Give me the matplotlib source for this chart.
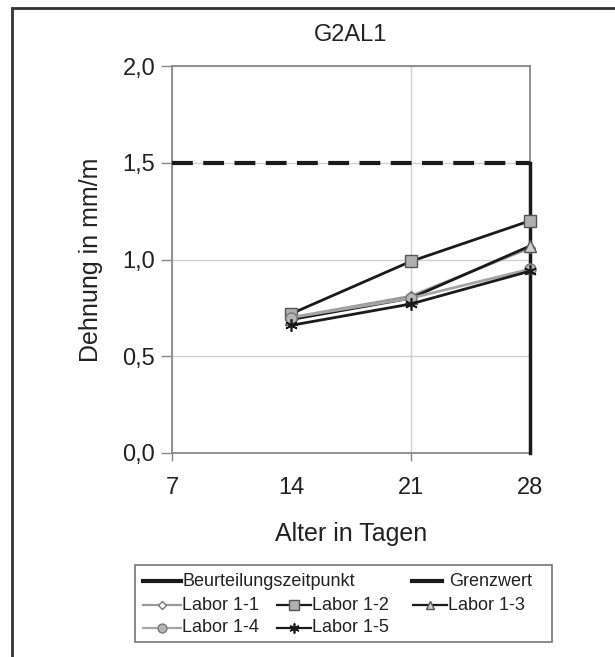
import matplotlib
matplotlib.use("Agg")
import matplotlib.pyplot as plt
from matplotlib.lines import Line2D
from matplotlib.patches import Rectangle

plt.rcParams["font.family"] = ["Liberation Sans", "DejaVu Sans"]

# data
tage = [14, 21, 28]
labor_1_1 = [0.70, 0.81, 1.06]
labor_1_2 = [0.72, 0.99, 1.20]
labor_1_3 = [0.69, 0.80, 1.07]
labor_1_4 = [0.70, 0.80, 0.95]
labor_1_5 = [0.66, 0.77, 0.94]
grenzwert = 1.5
beurteilung_tag = 28
x_ticks = [7, 14, 21, 28]
y_ticks = [0.0, 0.5, 1.0, 1.5, 2.0]
y_labels = ["0,0", "0,5", "1,0", "1,5", "2,0"]

W, H = 615, 657
fig = plt.figure(figsize=(W / 100, H / 100), dpi=100)


def px(x, y):
    # pixel position -> figure fraction
    return x / W, 1 - y / H


# outer chart frame
fig.patches.append(Rectangle(px(12, 670), (630 - 12) / W, (670 - 8) / H,
                             transform=fig.transFigure, fill=False,
                             edgecolor="#333333", linewidth=2))

left, right, top, bottom = 172, 530, 66, 453
ax = fig.add_axes([left / W, 1 - bottom / H, (right - left) / W, (bottom - top) / H])

series = [
    (labor_1_1, "Labor 1-1", dict(color="#9a9a9a", marker="D", ms=5, mfc="white", mec="#777777")),
    (labor_1_2, "Labor 1-2", dict(color="#1a1a1a", marker="s", ms=9, mfc="#b0b0b0", mec="#555555")),
    (labor_1_3, "Labor 1-3", dict(color="#1a1a1a", marker="^", ms=8, mfc="#d0d0d0", mec="#555555")),
    (labor_1_4, "Labor 1-4", dict(color="#a5a5a5", marker="o", ms=8, mfc="#b5b5b5", mec="#777777")),
    (labor_1_5, "Labor 1-5", dict(color="#1a1a1a", marker=(6, 2, 0), ms=9, mec="#1a1a1a", mew=1.2)),
]

ax.plot([x_ticks[0], beurteilung_tag], [grenzwert, grenzwert], color="#1a1a1a",
        lw=3, dashes=(5, 2.5), zorder=3, clip_on=False)
ax.plot([beurteilung_tag, beurteilung_tag], [0, grenzwert], color="#1a1a1a",
        lw=2.5, zorder=3, clip_on=False)
for vals, name, st in series:
    ax.plot(tage, vals, lw=2, zorder=4, clip_on=False, **st)

ax.set_xlim(7, 28)
ax.set_ylim(0, 2)
ax.set_xticks([7, 21])
ax.set_xticklabels(["7", "21"])
ax.set_xticks([14, 28], labels=["14", "28"], minor=True)
ax.set_yticks(y_ticks)
ax.set_yticklabels(y_labels)
ax.tick_params(axis="both", which="both", labelsize=17, colors="#888888",
               labelcolor="#222222", width=1)
ax.tick_params(axis="y", length=8, pad=4)
ax.tick_params(axis="x", which="major", length=6, pad=11)
ax.tick_params(axis="x", which="minor", length=0, pad=17)
ax.grid(True, which="major", color="#d0d0d0", lw=1)
for s in ax.spines.values():
    s.set_color("#8a8a8a")
    s.set_linewidth(1.3)

ax.set_xlabel("Alter in Tagen", fontsize=18, color="#222222", labelpad=17)
ax.set_ylabel("Dehnung in mm/m", fontsize=18, color="#222222", labelpad=14)
fig.text(*px((left + right) / 2, 35), "G2AL1", fontsize=17, color="#222222",
         ha="center", va="center")

# legend box laid out like the original
fig.patches.append(Rectangle(px(135, 642), (552 - 135) / W, (642 - 565) / H,
                             transform=fig.transFigure, fill=False,
                             edgecolor="#777777", linewidth=1.2))


def legend_entry(x0, x1, y, label, lw=1.6, tx=None, **st):
    xa, ya = px(x0, y)
    xb, _ = px(x1, y)
    fig.lines.append(Line2D([xa, (xa + xb) / 2, xb], [ya, ya, ya], lw=lw,
                            transform=fig.transFigure, markevery=[1], **st))
    fig.text(*px(tx if tx else x1 + 1, y), label, fontsize=13, color="#222222",
             ha="left", va="center")


legend_entry(143, 181, 581, "Beurteilungszeitpunkt", lw=3, color="#1a1a1a")
legend_entry(412, 442, 581, "Grenzwert", lw=3, color="#1a1a1a", tx=449)
rows = [(605, 143, 181), (605, 277, 311), (605, 413, 447), (628, 143, 181), (628, 277, 311)]
for (vals, name, st), (y, x0, x1) in zip(series, rows):
    st = dict(st)
    st["ms"] = st["ms"] * 0.8
    legend_entry(x0, x1, y, name, **st)

fig.savefig("out.png", dpi=100)
